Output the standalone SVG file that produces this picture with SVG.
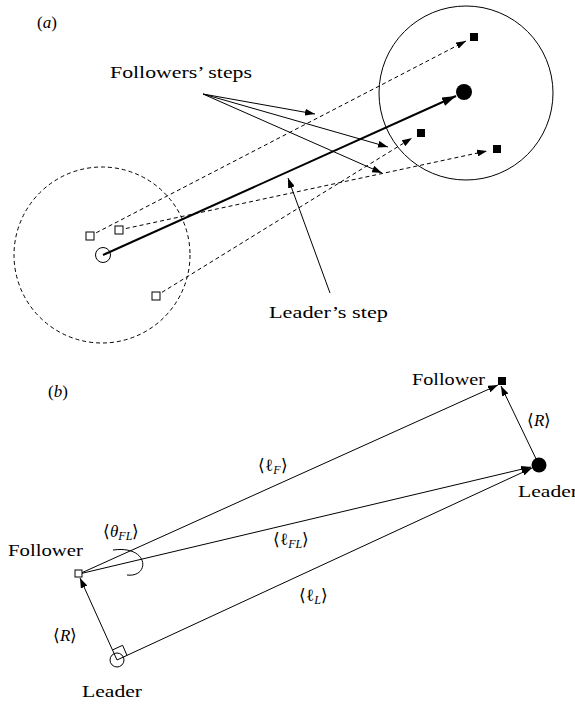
<svg xmlns="http://www.w3.org/2000/svg" width="575" height="706" viewBox="0 0 575 706">
<defs>
<style>
.ln{stroke:#000;stroke-width:1;fill:none}
.dash{stroke:#000;stroke-width:1;fill:none;stroke-dasharray:4,3}
.thick{stroke:#000;stroke-width:2;fill:none}
.hs{fill:#fff;stroke:#000;stroke-width:1}
.fs{fill:#000;stroke:none}
</style>
<marker id="ah" markerUnits="userSpaceOnUse" markerWidth="10" markerHeight="7" refX="10" refY="3.5" orient="auto"><path d="M0,0 L10,3.5 L0,7 z" fill="#000"/></marker>
<marker id="ahb" markerUnits="userSpaceOnUse" markerWidth="14" markerHeight="9" refX="14" refY="4.5" orient="auto"><path d="M0,0 L14,4.5 L0,9 z" fill="#000"/></marker>
</defs>
<rect width="575" height="706" fill="#fff"/>

<g id="start-region"><circle cx="102" cy="255" r="88" class="dash"/></g>
<g id="end-region"><circle cx="466" cy="93" r="87" class="ln"/></g>

<g id="connectors">
<line class="thick" x1="103" y1="255" x2="456" y2="96" marker-end="url(#ahb)"/>
<line class="dash" x1="90" y1="236" x2="466" y2="41" marker-end="url(#ah)"/>
<line class="dash" x1="119" y1="230" x2="487" y2="151" marker-end="url(#ah)"/>
<line class="dash" x1="156" y1="296" x2="412" y2="138" marker-end="url(#ah)"/>
<line class="ln" x1="203" y1="94" x2="315" y2="114" marker-end="url(#ah)"/>
<line class="ln" x1="203" y1="94" x2="388" y2="147" marker-end="url(#ah)"/>
<line class="ln" x1="203" y1="94" x2="382" y2="173" marker-end="url(#ah)"/>
<line class="ln" x1="330" y1="293" x2="288" y2="178" marker-end="url(#ah)"/>

<line class="ln" x1="79" y1="574" x2="498" y2="385" marker-end="url(#ah)"/>
<line class="ln" x1="79" y1="574" x2="531" y2="467" marker-end="url(#ah)"/>
<line class="ln" x1="117" y1="660" x2="532" y2="468" marker-end="url(#ah)"/>
<line class="ln" x1="117" y1="660" x2="80" y2="578" marker-end="url(#ah)"/>
<line class="ln" x1="539" y1="465" x2="501" y2="386" marker-end="url(#ah)"/>
<path class="ln" d="M113,550 C150,545 150,578 127,575"/>
<polyline class="ln" points="112.6,649.9 122.6,645.3 127,655.4"/>
</g>

<g id="leader-a-start"><circle cx="103" cy="255" r="7.5" class="ln"/></g>
<g id="leader-a-end"><circle cx="464" cy="92" r="8" class="fs"/></g>
<g id="follower-a1-start"><rect x="86" y="232" width="8" height="8" class="hs"/></g>
<g id="follower-a2-start"><rect x="115" y="226" width="8" height="8" class="hs"/></g>
<g id="follower-a3-start"><rect x="152" y="292" width="8" height="8" class="hs"/></g>
<g id="follower-a1-end"><rect x="470" y="33" width="8" height="8" class="fs"/></g>
<g id="follower-a2-end"><rect x="493" y="145" width="8" height="8" class="fs"/></g>
<g id="follower-a3-end"><rect x="417" y="129" width="8" height="8" class="fs"/></g>

<g id="labels" font-family="Liberation Serif" font-size="17" fill="#000">
<g id="panel-a-label"><text x="37" y="28">(<tspan font-style="italic">a</tspan>)</text></g>
<g id="label-followers-steps"><text x="110" y="78" textLength="142" lengthAdjust="spacingAndGlyphs">Followers’ steps</text></g>
<g id="label-leaders-step"><text x="269" y="318" textLength="119" lengthAdjust="spacingAndGlyphs">Leader’s step</text></g>
<g id="panel-b-label"><text x="48" y="397">(<tspan font-style="italic">b</tspan>)</text></g>
</g>

<g id="follower-b-start"><rect x="75" y="570" width="7" height="7" class="hs"/><text font-family="Liberation Serif" font-size="17" x="8" y="556" textLength="75" lengthAdjust="spacingAndGlyphs">Follower</text></g>
<g id="leader-b-start"><circle cx="117" cy="660" r="7" class="ln"/><text font-family="Liberation Serif" font-size="17" x="82" y="697" textLength="60" lengthAdjust="spacingAndGlyphs">Leader</text></g>
<g id="follower-b-end"><rect x="498" y="377" width="8" height="8" class="fs"/><text font-family="Liberation Serif" font-size="17" x="412" y="385" textLength="73" lengthAdjust="spacingAndGlyphs">Follower</text></g>
<g id="leader-b-end"><circle cx="539" cy="465" r="7.5" class="fs"/><text font-family="Liberation Serif" font-size="17" x="518" y="497" textLength="60" lengthAdjust="spacingAndGlyphs">Leader</text></g>

<g id="math-labels" font-family="Liberation Serif" font-size="17">
<text x="103" y="537">⟨<tspan font-style="italic">θ</tspan><tspan font-size="12" font-style="italic" dy="3">FL</tspan><tspan dy="-3">⟩</tspan></text>
<text x="53" y="641">⟨<tspan font-style="italic">R</tspan>⟩</text>
<text x="527" y="426">⟨<tspan font-style="italic">R</tspan>⟩</text>
<text x="258" y="471">⟨ℓ<tspan font-size="12" font-style="italic" dy="3">F</tspan><tspan dy="-3">⟩</tspan></text>
<text x="273" y="545">⟨ℓ<tspan font-size="12" font-style="italic" dy="3">FL</tspan><tspan dy="-3">⟩</tspan></text>
<text x="299" y="601">⟨ℓ<tspan font-size="12" font-style="italic" dy="3">L</tspan><tspan dy="-3">⟩</tspan></text>
</g>
</svg>
